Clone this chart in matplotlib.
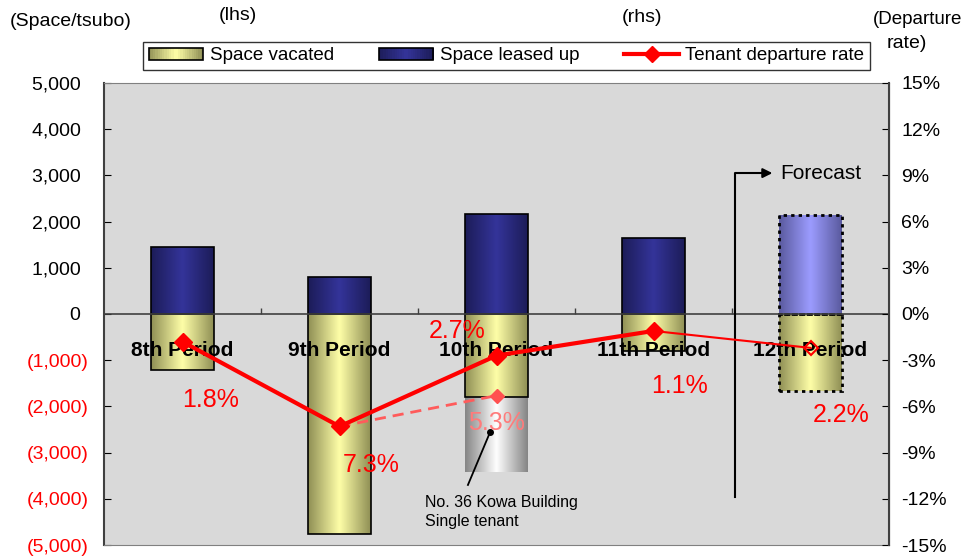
import numpy as np
import matplotlib
matplotlib.use("Agg")
import matplotlib.pyplot as plt
from matplotlib.colors import LinearSegmentedColormap
from matplotlib.patches import Rectangle, Patch
from matplotlib.lines import Line2D
from matplotlib.legend_handler import HandlerBase

plt.rcParams['font.family'] = ['Liberation Sans', 'DejaVu Sans']

# Data (space in tsubo, rates in %)
periods = ['8th Period', '9th Period', '10th Period', '11th Period', '12th Period']
vacated = [-1210, -4760, -1800, -800, -1670]
leased = [1450, 800, 2160, 1640, 2140]
kowa_vacated = -1620          # extra space vacated in 10th period (No. 36 Kowa Building)
rate = [1.8, 7.3, 2.7, 1.1, 2.2]
rate_incl_kowa = 5.3
forecast = [False, False, False, False, True]

# colours: (edge, centre) of each horizontal gradient
col_vac = ('#8f8f55', '#ffffa8')
col_lea = ('#1c1c58', '#34349a')
col_lea_fc = ('#5a5a9e', '#9c9cff')
col_kowa = ('#858585', '#ffffff')

x = np.arange(len(periods))
w = 0.4

fig = plt.figure(figsize=(9.64, 5.57), dpi=100)
ax = fig.add_axes([104/964, 12/557, 785/964, 462/557])
ax.set_facecolor('#d9d9d9')
ax2 = ax.twinx()


def grad_bar(axis, xc, y0, y1, cols, edge=True, ls='-', z=2):
    cm = LinearSegmentedColormap.from_list('g', [cols[0], cols[1], cols[0]])
    g = np.linspace(0, 1, 128).reshape(1, -1)
    lo, hi = min(y0, y1), max(y0, y1)
    axis.imshow(g, cmap=cm, extent=[xc - w/2, xc + w/2, lo, hi], aspect='auto',
                interpolation='bicubic', zorder=z)
    if edge:
        lw = 1.2 if ls == '-' else 2.0
        axis.add_patch(Rectangle((xc - w/2, lo), w, hi - lo, fill=False, ec='black',
                                 lw=lw, ls=(0, (1.2, 1.5)) if ls != '-' else '-', zorder=z + 0.1))


for i in range(len(periods)):
    ls = ':' if forecast[i] else '-'
    grad_bar(ax, x[i], 0, vacated[i], col_vac, ls=ls)
    grad_bar(ax, x[i], 0, leased[i], col_lea_fc if forecast[i] else col_lea, ls=ls)
grad_bar(ax, x[2], vacated[2], vacated[2] + kowa_vacated, col_kowa, edge=False)

ax.set_xlim(-0.5, len(periods) - 0.5)
ax.set_ylim(-5000, 5000)
ax.axhline(0, color='#404040', lw=1.2, zorder=3)
ax.vlines(x[:-1] + 0.5, 0, 130, color='#404040', lw=1, zorder=3)

yt = np.arange(-5000, 5001, 1000)
ax.set_yticks(yt)
ax.set_yticklabels([f'({abs(v):,})' if v < 0 else f'{v:,}\u2009\u2009' for v in yt], fontsize=14)
for lab, v in zip(ax.get_yticklabels(), yt):
    if v < 0:
        lab.set_color('red')
ax.set_xticks([])
ax.tick_params(axis='y', direction='in', length=5, pad=11)

for i, p in enumerate(periods):
    ax.text(x[i], -780, p, ha='center', va='center', fontsize=15, fontweight='bold', zorder=4)

for s in ['top', 'bottom']:
    ax.spines[s].set_color('#808080')
ax.spines['left'].set_color('#404040')
ax.spines['left'].set_linewidth(1.5)

# forecast marker
ax.plot([3.519, 3.519, 3.72], [-3960, 3050, 3050], color='black', lw=1.5, zorder=4)
ax.annotate('', xy=(3.775, 3050), xytext=(3.70, 3050),
            arrowprops=dict(arrowstyle='-|>', color='black', lw=1.5, mutation_scale=14), zorder=4)
ax.text(3.806, 3050, 'Forecast', fontsize=15, va='center', ha='left', zorder=4)

# rate line (right axis, plotted downwards)
neg = [-r for r in rate]
ax2.set_ylim(-15, 15)
ax2.plot([x[1], x[2]], [neg[1], -rate_incl_kowa], color='#ff5b5b', lw=2, ls=(0, (4, 2.5)), zorder=5)
ax2.plot(x[2], -rate_incl_kowa, 'D', color='#ff5050', ms=7, zorder=6)
ax2.plot(x[3:], neg[3:], color='red', lw=1.5, zorder=5)
ax2.plot(x[:4], neg[:4], color='red', lw=3, marker='D', ms=9, zorder=6)
ax2.plot(x[4], neg[4], 'D', mfc='none', mec='red', mew=1.5, ms=7.5, zorder=6)

offs = [(20, -42), (23, -28), (-28, 18), (19, -40), (22, -48)]
for i in range(len(periods)):
    ax2.annotate(f'{rate[i]}%', (x[i], neg[i]), xytext=offs[i], textcoords='offset points',
                 ha='center', va='center', color='red', fontsize=18, zorder=7)
ax2.annotate(f'{rate_incl_kowa}%', (x[2], -rate_incl_kowa), xytext=(0, -20), textcoords='offset points',
             ha='center', va='center', color='#ff7b7b', fontsize=18, zorder=7)

rt = np.arange(-15, 16, 3)
ax2.set_yticks(rt)
ax2.set_yticklabels([f'{v}%' for v in rt], fontsize=14)
ax2.tick_params(axis='y', direction='in', length=5, pad=9)
ax2.spines['right'].set_color('#404040')
ax2.spines['right'].set_linewidth(1.5)
for s in ['top', 'bottom', 'left']:
    ax2.spines[s].set_visible(False)

# Kowa building note
ax.plot([1.96, 1.818], [-2550, -3700], color='black', lw=1.3, zorder=4)
ax.plot(1.96, -2550, 'o', color='black', ms=4, zorder=4)
ax.text(1.545, -4070, 'No. 36 Kowa Building', fontsize=11.5, va='center', ha='left', zorder=4)
ax.text(1.545, -4500, 'Single tenant', fontsize=11.5, va='center', ha='left', zorder=4)


# legend with gradient swatches
class GradHandler(HandlerBase):
    def create_artists(self, legend, orig_handle, xd, yd, width, height, fontsize, trans):
        c0, c1 = orig_handle.cols
        cm = LinearSegmentedColormap.from_list('g', [c0, c1, c0])
        n = 24
        arts = []
        for k in range(n):
            r = Rectangle((-xd + k*width/n, -yd), width/n + 0.3, height, fc=cm((k + 0.5)/n),
                          ec='none', transform=trans)
            arts.append(r)
        arts.append(Rectangle((-xd, -yd), width, height, fill=False, ec='black', lw=1.2, transform=trans))
        return arts


h1 = Patch(label='Space vacated'); h1.cols = col_vac
h2 = Patch(label='Space leased up'); h2.cols = col_lea
h3 = Line2D([], [], color='red', lw=3, marker='D', ms=8, label='Tenant departure rate')
leg = fig.legend(handles=[h1, h2, h3], ncol=3, loc='lower left',
                 bbox_to_anchor=(143/964, 1 - 70/557, 727/964, 32/557), mode='expand',
                 handler_map={Patch: GradHandler()}, fontsize=13.5, frameon=True, fancybox=False,
                 edgecolor='black', handlelength=2.9, handleheight=0.6, handletextpad=0.35,
                 borderpad=0.3, borderaxespad=0)
leg.get_frame().set_linewidth(1.0)

fig.text(10/964, 1 - 22/557, '(Space/tsubo)', fontsize=14, va='center', ha='left')
fig.text(238/964, 1 - 16/557, '(lhs)', fontsize=14, va='center', ha='center')
fig.text(642/964, 1 - 18/557, '(rhs)', fontsize=14, va='center', ha='center')
fig.text(962/964, 1 - 20/557, '(Departure', fontsize=13.5, va='center', ha='right')
fig.text(907/964, 1 - 44/557, 'rate)', fontsize=14, va='center', ha='center')

fig.savefig('out.png', dpi=100)
plt.close(fig)
